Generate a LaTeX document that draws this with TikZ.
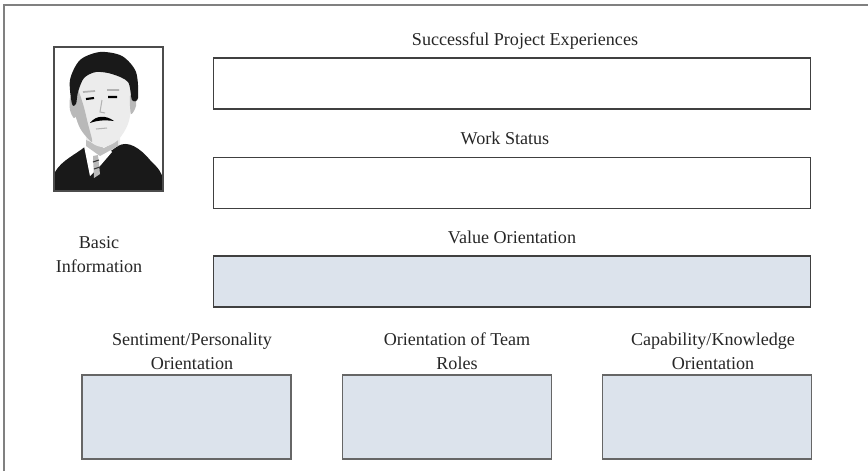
\documentclass[tikz,border=0pt]{standalone}
\usepackage{fontspec}
\setmainfont{Liberation Serif}
\usetikzlibrary{positioning}

\definecolor{boxblue}{HTML}{DCE3EC}
\definecolor{framegray}{HTML}{808080}

\tikzset{
  field/.style={draw=black!75, line width=0.6pt, minimum width=11.96cm, minimum height=1.02cm, inner sep=0pt},
  smallfield/.style={draw=black!60, line width=0.7pt, fill=boxblue, minimum width=4.18cm, minimum height=1.68cm, inner sep=0pt},
  caption/.style={font=\fontsize{10.3}{13.5}\selectfont, align=center, text=black!85, inner sep=0pt, anchor=base}
}

\begin{document}
\begin{tikzpicture}[x=0.02cm, y=-0.02cm]
    \useasboundingbox (0,0) rectangle (868,471);

    % Cadre
    \draw[framegray, line width=0.8pt] (4,471) -- (4,5) -- (868,5);

    % Portrait
    \begin{scope}
      \clip (55,48) rectangle (162,190);
      \fill[gray!15] (86,128) -- (86,152) -- (100,162) -- (120,148) -- (120,128) -- cycle;
      \fill[black!90] (55,192) -- (55,172) .. controls (62,160) and (75,155) .. (86,146)
        -- (98,160) -- (118,146) .. controls (128,140) and (140,148) .. (150,160)
        .. controls (158,168) and (162,172) .. (163,180) -- (163,192) -- cycle;
      \fill[white] (84,146) -- (90,176) -- (100,166) -- (112,152) -- (104,142) -- cycle;
      \fill[gray!55] (93,156) -- (98,155) -- (100,174) -- (94,178) -- cycle;
      \draw[black!80, line width=0.6pt] (93,162) -- (99,160) (94,169) -- (100,167);
      \fill[gray!50] (86,140) -- (104,148) -- (118,140) -- (118,146) -- (100,156) -- (86,146) -- cycle;
      \fill[gray!15] plot[smooth cycle] coordinates {(76,80) (74,105) (80,128) (92,143) (104,147) (118,140) (128,124) (132,100) (128,75) (104,66)};
      \fill[gray!55] plot[smooth cycle] coordinates {(76,86) (74,108) (80,128) (92,142) (88,124) (83,104)};
      \fill[gray!55] plot[smooth cycle] coordinates {(70,98) (74,96) (78,112) (74,118) (70,110)};
      \fill[gray!55] plot[smooth cycle] coordinates {(130,96) (135,94) (136,106) (131,114)};
      \fill[black!90] plot[smooth cycle] coordinates {(72,104) (70,80) (80,60) (100,52) (122,56) (136,72) (138,98) (132,100) (128,82) (112,74) (96,72) (84,78) (78,92) (76,104)};
      \draw[gray!60, line width=1pt] (83,92) -- (95,91) (107,90) -- (119,90);
      \draw[black, line width=1.2pt] (86,99) -- (94,98) (108,97) -- (117,97);
      \draw[gray!60, line width=0.6pt] (102,100) -- (100,112) -- (105,113);
      \fill[black] (90,123) .. controls (96,115) and (106,115) .. (114,121)
        .. controls (106,120) and (98,120) .. cycle;
      \draw[gray!60, line width=0.6pt] (96,129) -- (107,128);
    \end{scope}
    \draw[black!70, line width=1pt] (54,47) rectangle (163,191);

    % Cases
    \node[field] (exp) at (512,83.5) {};
    \node[field] (status) at (512,183) {};
    \node[field, fill=boxblue] (value) at (512,281.5) {};
    \node[smallfield] (sent) at (186.5,417) {};
    \node[smallfield] (roles) at (447,417) {};
    \node[smallfield] (cap) at (707,417) {};

    % Titres
    \node[caption] (expcap) at (525,45) {Successful Project Experiences};
    \node[caption] (statuscap) at (505,144) {Work Status};
    \node[caption] (valuecap) at (512,243) {Value Orientation};
    \node[caption] (basic) at (99,272) {Basic\\Information};
    \node[caption] (sentcap) at (192,369) {Sentiment/Personality\\Orientation};
    \node[caption] (rolescap) at (457,369) {Orientation of Team\\Roles};
    \node[caption] (capcap) at (713,369) {Capability/Knowledge\\Orientation};
\end{tikzpicture}
\end{document}
